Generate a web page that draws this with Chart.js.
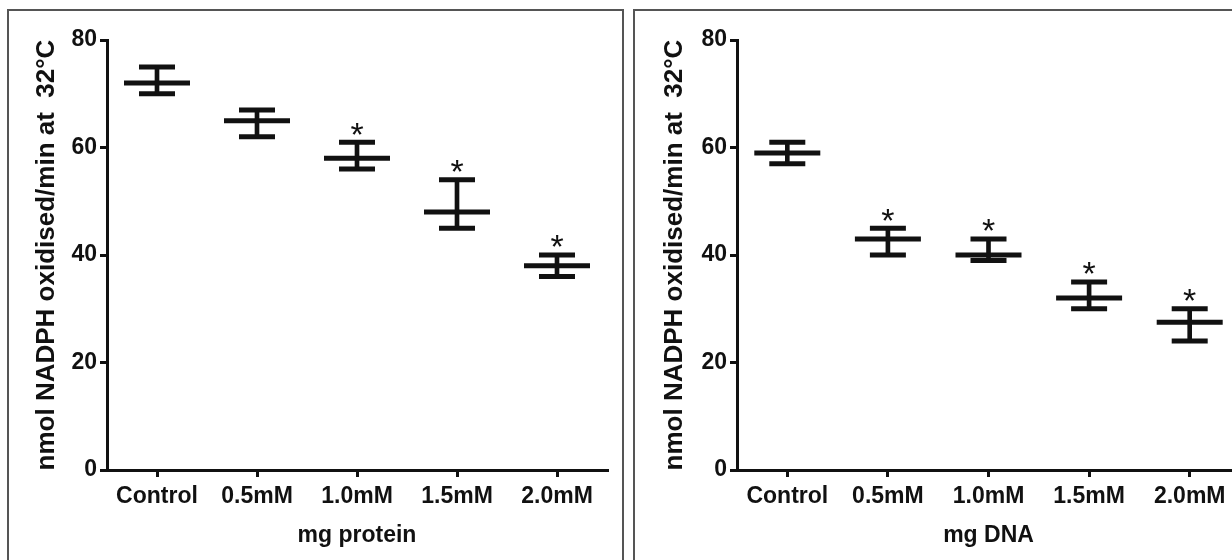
<!DOCTYPE html>
<html><head><meta charset="utf-8">
<script src="https://cdn.jsdelivr.net/npm/chart.js@4/dist/chart.umd.min.js"></script>
<style>
html,body{margin:0;padding:0;width:1232px;height:560px;overflow:hidden;background:#fff;}
#wrap{position:relative;width:1232px;height:560px;overflow:hidden;}
.frame{position:absolute;border:2px solid #555;box-sizing:border-box;}
.cv{position:absolute;top:0;height:560px;}
</style></head><body>
<div id="wrap">
<div class="frame" style="left:7px;top:9px;width:617px;height:600px;"></div>
<div class="frame" style="left:633px;top:9px;width:700px;height:600px;"></div>
<div class="cv" style="left:0;width:620px;"><canvas id="c1"></canvas></div>
<div class="cv" style="left:620px;width:630px;"><canvas id="c2"></canvas></div>
</div>
<script>
const categories = ['Control','0.5mM','1.0mM','1.5mM','2.0mM'];
const yTicks = [0,20,40,60,80];
const yTitle = 'nmol NADPH oxidised/min at  32°C';

const proteinMean = [72,65,58,48,38];
const proteinLow  = [70,62,56,45,36];
const proteinHigh = [75,67,61,54,40];
const proteinSig  = [false,false,true,true,true];

const dnaMean = [59,43,40,32,27.5];
const dnaLow  = [57,40,39,30,24];
const dnaHigh = [61,45,43,35,30];
const dnaSig  = [false,true,true,true,true];

const INK = '#111';
const FONT = '"Liberation Sans", Arial, sans-serif';

const starPlugin = {
  id: 'stars',
  afterDatasetsDraw(chart, args, opts) {
    const {ctx, scales: {x, y}} = chart;
    ctx.save();
    const size = 34;
    ctx.font = size + 'px ' + FONT;
    ctx.fillStyle = INK;
    ctx.textAlign = 'center';
    ctx.textBaseline = 'alphabetic';
    opts.sig.forEach((s, i) => {
      if (!s) return;
      const px = x.getPixelForValue(i);
      const py = y.getPixelForValue(opts.high[i]);
      ctx.fillText('*', px, py - 16 + 0.57 * size);
    });
    ctx.restore();
  }
};

function makeChart(id, mean, low, high, sig, xTitle, yAxisWidth, titlePad, rightPad) {
  const pointDs = (data, r, bw) => ({
    type: 'line', data, showLine: false, pointStyle: 'line',
    pointRadius: r, pointHoverRadius: r, pointBorderWidth: bw, pointHoverBorderWidth: bw,
    pointBorderColor: INK, borderColor: INK, backgroundColor: INK, clip: false
  });
  return new Chart(document.getElementById(id), {
    type: 'bar',
    data: {
      labels: categories,
      datasets: [
        { type: 'bar', data: low.map((l, i) => [l, high[i]]), backgroundColor: INK, barThickness: 4, borderWidth: 0 },
        pointDs(mean, 33, 5),
        pointDs(high, 18, 5),
        pointDs(low, 18, 5)
      ]
    },
    plugins: [starPlugin],
    options: {
      responsive: true, maintainAspectRatio: false, animation: false, devicePixelRatio: 1,
      events: [],
      layout: { autoPadding: false, padding: { left: 0, right: rightPad, top: 40, bottom: 0 } },
      plugins: {
        legend: { display: false }, tooltip: { enabled: false },
        stars: { sig, high }
      },
      scales: {
        x: {
          offset: true,
          grid: { display: true, offset: false, drawOnChartArea: false, drawTicks: true, tickLength: 7, color: INK, lineWidth: 3 },
          border: { display: true, color: INK, width: 3 },
          ticks: { color: INK, padding: 6, font: { family: FONT, size: 23, weight: 'bold', lineHeight: 1.2 }, maxRotation: 0, autoSkip: false },
          title: { display: true, text: xTitle, color: INK, font: { family: FONT, size: 23, weight: 'bold', lineHeight: 1.2 }, padding: { top: 0, bottom: 11 } },
          afterFit: s => { s.height = 90; s.paddingLeft = 0; s.paddingRight = 0; }
        },
        y: {
          min: 0, max: 80,
          afterBuildTicks: s => { s.ticks = yTicks.map(v => ({ value: v })); },
          grid: { display: true, drawOnChartArea: false, drawTicks: true, tickLength: 7, color: INK, lineWidth: 3 },
          border: { display: true, color: INK, width: 3 },
          ticks: { color: INK, padding: 3, font: { family: FONT, size: 23, weight: 'bold', lineHeight: 1.2 } },
          title: { display: true, text: yTitle, color: INK, font: { family: FONT, size: 26, weight: 'bold', lineHeight: 1.2 }, padding: { top: titlePad, bottom: 0 } },
          afterFit: s => { s.width = yAxisWidth; s.paddingTop = 0; s.paddingBottom = 0; }
        }
      }
    }
  });
}

makeChart('c1', proteinMean, proteinLow, proteinHigh, proteinSig, 'mg protein', 107, 31, 13);
makeChart('c2', dnaMean, dnaLow, dnaHigh, dnaSig, 'mg DNA', 117, 39, 10);
</script>
</body></html>
